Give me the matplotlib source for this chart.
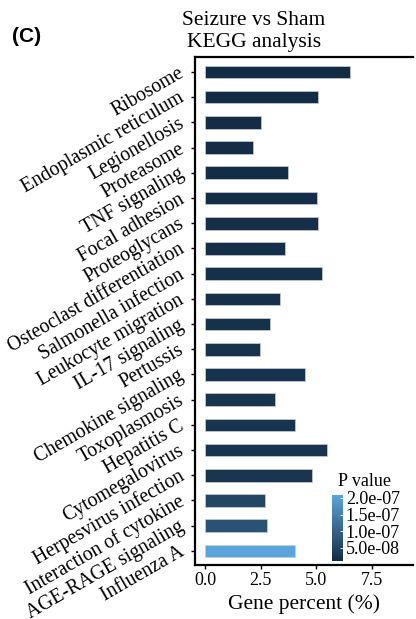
import numpy as np
import matplotlib.pyplot as plt
from matplotlib.colors import LinearSegmentedColormap, Normalize
from matplotlib.cm import ScalarMappable

plt.rcParams['font.family'] = ['Liberation Serif', 'DejaVu Serif']

pathways = [
    'Ribosome', 'Endoplasmic reticulum', 'Legionellosis', 'Proteasome',
    'TNF signaling', 'Focal adhesion', 'Proteoglycans',
    'Osteoclast differentiation', 'Salmonella infection',
    'Leukocyte migration', 'IL-17 signaling', 'Pertussis',
    'Chemokine signaling', 'Toxoplasmosis', 'Hepatitis C',
    'Cytomegalovirus', 'Herpesvirus infection', 'Interaction of cytokine',
    'AGE-RAGE signaling', 'Influenza A',
]
gene_percent = [6.52, 5.08, 2.53, 2.17, 3.74, 5.02, 5.08, 3.59, 5.24, 3.37,
                2.92, 2.47, 4.50, 3.14, 4.05, 5.46, 4.81, 2.70, 2.77, 4.05]
p_values = [1.1e-8, 1.2e-8, 1.3e-8, 1.4e-8, 1.5e-8, 1.6e-8, 1.7e-8, 1.8e-8,
            1.9e-8, 2.0e-8, 2.1e-8, 2.2e-8, 2.3e-8, 2.4e-8, 2.5e-8, 2.6e-8,
            2.8e-8, 5.5e-8, 7.5e-8, 2.09e-7]
cbar_ticks = [5.0e-8, 1.0e-7, 1.5e-7, 2.0e-7]

# continuous fill scale, dark navy -> light blue
cmap = LinearSegmentedColormap.from_list('gg_blue', ['#132B43', '#5BA5DC'])
norm = Normalize(vmin=min(p_values), vmax=max(p_values))

fig = plt.figure(figsize=(4.16, 6.19), dpi=100)
ax = fig.add_axes([0.469, 0.0872, 0.524, 0.821])

y = np.arange(len(pathways))
ax.barh(y, gene_percent, height=0.5, color=cmap(norm(p_values)),
        edgecolor='#c9ced6', linewidth=0.5)

ax.set_ylim(len(pathways) - 0.44, -0.6)
ax.set_xlim(-0.45, 9.35)
ax.set_xticks([0, 2.5, 5.0, 7.5])
ax.set_xticklabels(['0.0', '2.5', '5.0', '7.5'], fontsize=13)
ax.set_yticks(y)
ax.set_yticklabels(pathways, fontsize=14.2, rotation=30, ha='right',
                   va='center', rotation_mode='anchor')
ax.tick_params(axis='x', length=3, width=1, pad=2)
ax.tick_params(axis='y', length=3, width=1, pad=6)
ax.set_xlabel('Gene percent (%)', fontsize=15.5, labelpad=4)

for side in ['left', 'top', 'bottom']:
    ax.spines[side].set_linewidth(1.6)
ax.spines['right'].set_visible(False)

# colour bar for P value
cax = fig.add_axes([332 / 416, (619 - 561) / 619, 11 / 416, 66 / 619])
cb = fig.colorbar(ScalarMappable(norm=norm, cmap=cmap), cax=cax,
                  ticks=cbar_ticks)
cb.outline.set_visible(False)
cb.ax.set_yticklabels(['5.0e-08', '1.0e-07', '1.5e-07', '2.0e-07'],
                      fontsize=13)
cb.ax.tick_params(length=2, width=0.6, color='white', direction='in', pad=2)
fig.text(338 / 416, 1 - 486 / 619, 'P value', fontsize=13, ha='left',
         va='baseline')

fig.text(254 / 416, 1 - 25 / 619, 'Seizure vs Sham', fontsize=15.5,
         ha='center', va='baseline')
fig.text(254 / 416, 1 - 47 / 619, 'KEGG analysis', fontsize=15.5,
         ha='center', va='baseline')
fig.text(12 / 416, 1 - 36 / 619, '(C)', fontsize=15, fontweight='bold',
         family=['Liberation Sans', 'DejaVu Sans'], ha='left', va='center')

fig.savefig('out.png', dpi=100)
